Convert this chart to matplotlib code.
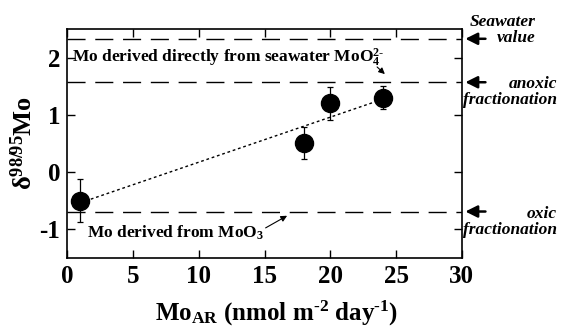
import numpy as np
import matplotlib
matplotlib.use("Agg")
from matplotlib import pyplot as plt

plt.rcParams['font.family'] = ['Liberation Serif', 'DejaVu Serif']
plt.rcParams['font.weight'] = 'bold'
plt.rcParams['axes.unicode_minus'] = False
plt.rcParams['mathtext.fontset'] = 'custom'
plt.rcParams['mathtext.rm'] = 'Liberation Serif:bold'
plt.rcParams['mathtext.bf'] = 'Liberation Serif:bold'
plt.rcParams['mathtext.it'] = 'Liberation Serif:bold'

# data
mo_ar = [1, 18, 20, 24]
delta_mo = [-0.5, 0.5, 1.2, 1.3]
delta_err = [0.38, 0.28, 0.29, 0.2]

seawater = 2.33
anoxic = 1.57
oxic = -0.69

xticks = [0, 5, 10, 15, 20, 25, 30]
yticks = [-1, 0, 1, 2]

fig = plt.figure(figsize=(5.64, 3.34), dpi=100)
ax = fig.add_axes([0.119, 0.228, 0.7, 0.685])

for lvl in [seawater, anoxic, oxic]:
    ax.axhline(lvl, color='black', lw=1, dashes=(13, 7))

# linear fit through the points (dotted)
k, b = np.polyfit(mo_ar, delta_mo, 1)
xf = np.array([min(mo_ar), max(mo_ar)])
ax.plot(xf, k * xf + b, color='black', lw=1, linestyle=(0, (2, 2)))

ax.errorbar(mo_ar, delta_mo, yerr=delta_err, fmt='o', color='black',
            ms=13, elinewidth=0.9, capsize=2.5, capthick=0.9)

ax.set_xlim(0, 30)
ax.set_ylim(-1.5, 2.5)
ax.set_xticks(xticks)
ax.set_yticks(yticks)
ax.tick_params(direction='in', length=6, width=1, top=True, right=True,
               labelsize=18, pad=5)
ax.tick_params(axis='x', labeltop=False)
ax.tick_params(axis='y', labelright=False)
for s in ax.spines.values():
    s.set_linewidth(1.2)

ax.set_xlabel(r'Mo$_{\mathrm{AR}}$ (nmol m$^{\text{-}2}$ day$^{\text{-}1}$)',
              fontsize=18, fontweight='bold', labelpad=8)
ax.xaxis.set_label_coords(0.53, -0.18)
ax.set_ylabel(r'δ$^{98/95}$Mo', fontsize=19, fontweight='bold', labelpad=2)

ax.text(0.4, 2.0, r'Mo derived directly from seawater MoO$_4^{2\text{-}}$',
        fontsize=12.5, fontweight='bold', va='center', ha='left')
ax.text(1.5, -1.06, r'Mo derived from MoO$_3$', fontsize=12.5,
        fontweight='bold', va='center', ha='left')

ax.annotate('', xy=(24.3, 1.68), xytext=(23.4, 1.87),
            arrowprops=dict(arrowstyle='-|>', color='black', lw=0.8,
                            mutation_scale=9))
ax.annotate('', xy=(16.9, -0.74), xytext=(14.9, -1.0),
            arrowprops=dict(arrowstyle='-|>', color='black', lw=0.8,
                            mutation_scale=9))

# right-hand labels with arrows
for lvl in [seawater, anoxic, oxic]:
    ax.annotate('', xy=(30.05, lvl), xytext=(32.0, lvl),
                xycoords='data', annotation_clip=False,
                arrowprops=dict(arrowstyle='-|>', color='black', lw=1.8,
                                mutation_scale=18))

fig.text(0.949, 0.91, 'Seawater\nvalue', ha='right', va='center',
         fontsize=12.5, style='italic', fontweight='bold', linespacing=1.05)
fig.text(0.988, 0.725, 'anoxic\nfractionation', ha='right', va='center',
         fontsize=12.5, style='italic', fontweight='bold', linespacing=1.05)
fig.text(0.988, 0.335, 'oxic\nfractionation', ha='right', va='center',
         fontsize=12.5, style='italic', fontweight='bold', linespacing=1.05)

fig.savefig('out.png', dpi=100)
